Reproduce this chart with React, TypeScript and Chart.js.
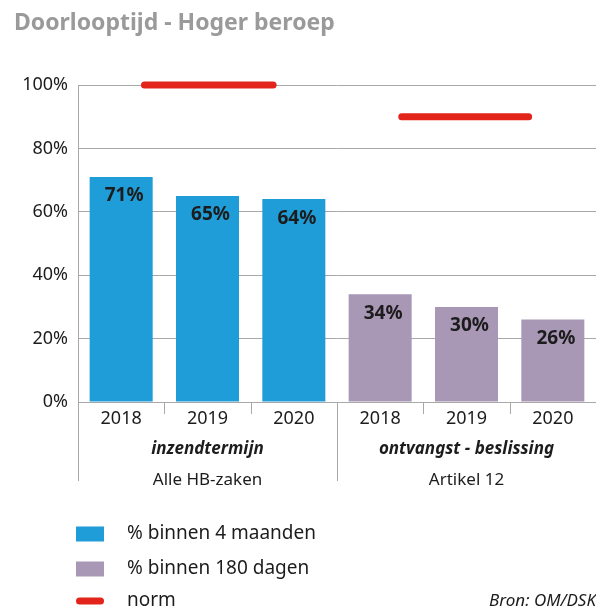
import React, { useEffect, useRef } from "react";
import { Chart, registerables } from "chart.js";

Chart.register(...registerables);

const title = "Doorlooptijd - Hoger beroep";
const categories = ["2018", "2019", "2020", "2018", "2019", "2020"];
const blueValues = [71, 65, 64, null, null, null];
const purpleValues = [null, null, null, 34, 30, 26];
const blueLabel = "% binnen 4 maanden";
const purpleLabel = "% binnen 180 dagen";
const normLabel = "norm";
const normValues = [100, 90];
const normStart = [0.27, 3.25];
const normEnd = [1.76, 4.72];
const groupCenters = [1, 4];
const groupTitles = ["inzendtermijn", "ontvangst - beslissing"];
const groupSubtitles = ["Alle HB-zaken", "Artikel 12"];
const yTicks = [0, 20, 40, 60, 80, 100];
const source = "Bron: OM/DSK";

const BLUE = "#1E9DD8";
const PURPLE = "#A897B5";
const RED = "#E3241B";
const GRID = "#A8A8A8";
const TEXT = "#1c1c1c";
const FONT = "'Noto Sans', sans-serif";

const normData: any[] = [];
normValues.forEach((v, i) => {
  if (i > 0) normData.push({ x: (normEnd[i - 1] + normStart[i]) / 2, y: null });
  normData.push({ x: normStart[i], y: v });
  normData.push({ x: normEnd[i], y: v });
});

const decorPlugin = {
  id: "decor",
  afterDraw(chart: any) {
    const ctx = chart.ctx;
    const xs = chart.scales.x;
    const area = chart.chartArea;
    ctx.save();
    // title
    ctx.fillStyle = "#9a9a9a";
    ctx.font = `bold 23px ${FONT}`;
    ctx.textAlign = "left";
    ctx.textBaseline = "alphabetic";
    ctx.fillText(title, 14, 30);

    // value labels
    ctx.fillStyle = TEXT;
    ctx.font = `bold 19px ${FONT}`;
    ctx.textAlign = "center";
    ctx.textBaseline = "middle";
    [0, 1].forEach((di) => {
      const meta = chart.getDatasetMeta(di);
      const data = chart.data.datasets[di].data;
      meta.data.forEach((el: any, i: number) => {
        const v = data[i];
        if (v === null || v === undefined) return;
        ctx.fillText(`${v}%`, el.x + 3, el.y + 19);
      });
    });

    // separators
    ctx.strokeStyle = GRID;
    ctx.lineWidth = 1;
    for (let i = 0; i < categories.length; i++) {
      const x = Math.round(xs.getPixelForValue(i - 0.5)) + 0.5;
      const isGroup = i === 0 || i === 3;
      ctx.beginPath();
      ctx.moveTo(x, area.bottom);
      ctx.lineTo(x, isGroup ? 481 : 414);
      ctx.stroke();
    }

    // group labels
    groupCenters.forEach((c, i) => {
      const x = xs.getPixelForValue(c);
      ctx.fillStyle = TEXT;
      ctx.font = `italic bold 17px ${FONT}`;
      ctx.fillText(groupTitles[i], x, 449);
      ctx.font = `17px ${FONT}`;
      ctx.fillText(groupSubtitles[i], x, 480);
    });

    // legend
    const ds = chart.data.datasets;
    const rows = [
      { y: 534, ds: ds[0] },
      { y: 569, ds: ds[1] },
      { y: 601, ds: ds[2] },
    ];
    rows.forEach((r, i) => {
      if (i < 2) {
        ctx.fillStyle = r.ds.backgroundColor;
        ctx.fillRect(76, r.y - 7.5, 28, 15);
      } else {
        ctx.strokeStyle = r.ds.borderColor;
        ctx.lineWidth = 7;
        ctx.lineCap = "round";
        ctx.beginPath();
        ctx.moveTo(79.5, r.y);
        ctx.lineTo(100.5, r.y);
        ctx.stroke();
      }
      ctx.fillStyle = TEXT;
      ctx.font = `19px ${FONT}`;
      ctx.textAlign = "left";
      ctx.textBaseline = "middle";
      ctx.fillText(r.ds.label, 127, r.y);
    });

    ctx.font = `italic 17px ${FONT}`;
    ctx.textAlign = "right";
    ctx.fillText(source, 596, 601);
    ctx.restore();
  },
};

export default function App() {
  const ref = useRef<HTMLCanvasElement | null>(null);
  useEffect(() => {
    document.body.style.margin = "0";
    const chart = new Chart(ref.current as HTMLCanvasElement, {
      type: "bar",
      data: {
        labels: categories,
        datasets: [
          {
            label: blueLabel,
            data: blueValues as any,
            backgroundColor: BLUE,
            grouped: false,
            barPercentage: 0.73,
            categoryPercentage: 1,
          } as any,
          {
            label: purpleLabel,
            data: purpleValues as any,
            backgroundColor: PURPLE,
            grouped: false,
            barPercentage: 0.73,
            categoryPercentage: 1,
          } as any,
          {
            type: "line",
            label: normLabel,
            data: normData,
            xAxisID: "xn",
            borderColor: RED,
            backgroundColor: RED,
            borderWidth: 7,
            borderCapStyle: "round",
            pointRadius: 0,
            spanGaps: false,
            clip: false,
            order: -1,
          } as any,
        ],
      },
      options: {
        responsive: false,
        animation: false,
        layout: { padding: { top: 85, left: 0, right: 0, bottom: 177 } },
        plugins: {
          legend: { display: false },
          tooltip: { enabled: false },
          title: { display: false },
        },
        scales: {
          x: {
            type: "category",
            offset: true,
            grid: { display: false, drawTicks: false },
            border: { display: false },
            ticks: {
              color: TEXT,
              font: { family: FONT, size: 18 },
              padding: 6,
              maxRotation: 0,
              autoSkip: false,
            },
            afterFit: (s: any) => {
              s.height = 30;
            },
          },
          xn: {
            type: "linear",
            position: "bottom",
            display: false,
            offset: false,
            grace: 0,
            min: -0.5,
            max: 5.5,
          },
          y: {
            min: 0,
            max: 100,
            afterBuildTicks: (s: any) => {
              s.ticks = yTicks.map((v) => ({ value: v }));
            },
            afterFit: (s: any) => {
              s.width = 78;
            },
            grid: { color: GRID, lineWidth: 1, drawTicks: false },
            border: { display: true, color: GRID, width: 1 },
            ticks: {
              color: TEXT,
              font: { family: FONT, size: 18 },
              padding: 10,
              callback: (v: any) => `${v}%`,
            },
          },
        },
      },
      plugins: [decorPlugin],
    });
    return () => chart.destroy();
  }, []);
  return (
    <div style={{ position: "absolute", left: 0, top: 0, width: 596, height: 609 }}>
      <canvas ref={ref} width={596} height={609} />
    </div>
  );
}
